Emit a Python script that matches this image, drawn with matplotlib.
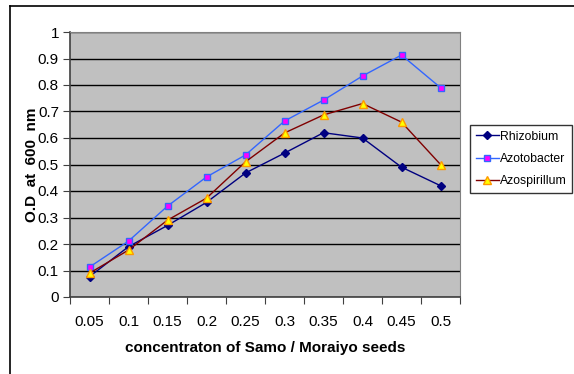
from matplotlib import pyplot as plt
from matplotlib.lines import Line2D
import numpy as np

plt.rcParams['font.family'] = ['Liberation Sans Narrow', 'Liberation Sans', 'DejaVu Sans']

concentrations = ['0.05', '0.1', '0.15', '0.2', '0.25', '0.3', '0.35', '0.4', '0.45', '0.5']
rhizobium = [0.077, 0.19, 0.27, 0.357, 0.468, 0.543, 0.62, 0.60, 0.49, 0.42]
azotobacter = [0.113, 0.211, 0.343, 0.453, 0.536, 0.664, 0.743, 0.834, 0.913, 0.79]
azospirillum = [0.09, 0.177, 0.29, 0.373, 0.51, 0.619, 0.687, 0.73, 0.66, 0.50]


def draw_chart():
    fig = plt.figure(figsize=(5.74, 3.74), dpi=100)
    W, H = 574, 374
    ax = fig.add_axes([70 / W, 1 - 297 / H, 390 / W, 265 / H])

    # outer chart frame (left and top visible)
    fig.add_artist(Line2D([10 / W, 10 / W], [0, 1 - 6 / H], color='black', lw=1.2))
    fig.add_artist(Line2D([10 / W, 1], [1 - 6 / H, 1 - 6 / H], color='black', lw=1.2))

    x = np.arange(len(concentrations))
    ax.set_facecolor('#C0C0C0')
    ax.set_xlim(-0.5, len(concentrations) - 0.5)
    ax.set_ylim(0, 1)
    ax.set_yticks(np.arange(0, 1.01, 0.1))
    ax.set_yticklabels(['0', '0.1', '0.2', '0.3', '0.4', '0.5', '0.6', '0.7', '0.8', '0.9', '1'])
    ax.yaxis.grid(True, color='black', lw=1)
    ax.set_axisbelow(True)

    # category ticks between categories, labels at centres
    ax.set_xticks(np.arange(-0.5, len(concentrations), 1))
    ax.set_xticklabels([])
    ax.set_xticks(x, minor=True)
    ax.set_xticklabels(concentrations, minor=True)
    ax.tick_params(axis='x', which='minor', length=0, pad=13, labelsize=11)
    ax.tick_params(axis='x', which='major', length=5, color='#404040')
    ax.tick_params(axis='y', length=5, color='#404040', labelsize=11, pad=3)

    for side in ['left', 'bottom']:
        ax.spines[side].set_color('#404040')
        ax.spines[side].set_linewidth(1.2)
    for side in ['top', 'right']:
        ax.spines[side].set_color('#808080')

    ax.plot(x, rhizobium, color='#000080', lw=1, marker='D', ms=4,
            mfc='#000080', mec='#000080', label='Rhizobium')
    ax.plot(x, azotobacter, color='#3366FF', lw=1, marker='s', ms=5,
            mfc='#FF00FF', mec='#3366FF', label='Azotobacter')
    ax.plot(x, azospirillum, color='#800000', lw=1, marker='^', ms=6,
            mfc='#FFFF00', mec='#FF9900', label='Azospirillum')

    ax.set_xlabel('concentraton of Samo / Moraiyo seeds', fontweight='bold', fontsize=11)
    ax.xaxis.set_label_coords(0.5, -0.165)
    ax.set_ylabel('O.D  at  600  nm', fontweight='bold', fontsize=11)
    ax.yaxis.set_label_coords(-0.08, 0.5)

    leg = fig.legend(loc='upper left', bbox_to_anchor=(470 / W, 1 - 125 / H),
                     frameon=True, fancybox=False, edgecolor='black',
                     fontsize=8.8, handlelength=1.9, handletextpad=0.1,
                     borderpad=0.45, labelspacing=0.85, borderaxespad=0)
    leg.get_frame().set_linewidth(1)

    fig.savefig('out.png', dpi=100)


if __name__ == '__main__':
    draw_chart()
